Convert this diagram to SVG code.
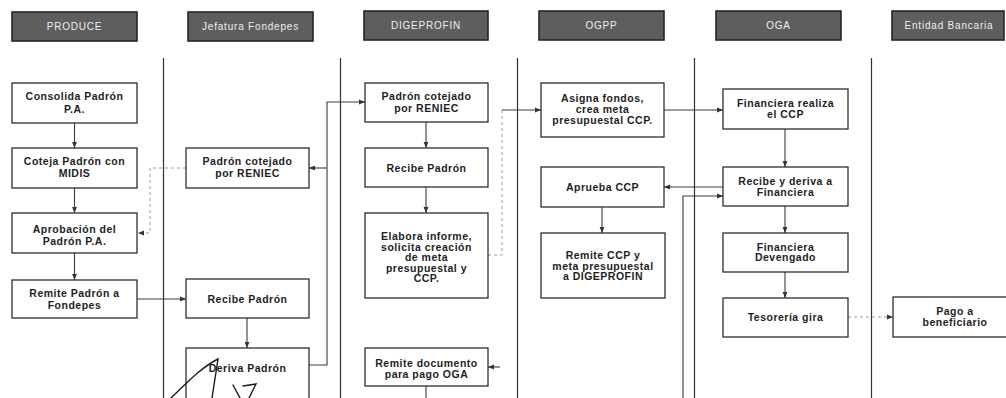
<svg xmlns="http://www.w3.org/2000/svg" width="1006" height="398" viewBox="0 0 1006 398">
<style>
.hdr rect{fill:#5e5e5e;stroke:#262626;stroke-width:1.6}
.hdr text{font-family:"Liberation Sans",Arial,sans-serif;font-size:10px;fill:#eeeeee;text-anchor:middle;letter-spacing:0.8px}
.lane{stroke:#333;stroke-width:1.2}
.node rect{fill:#fff;stroke:#2e2e2e;stroke-width:1.3}
.node text{font-family:"Liberation Sans",Arial,sans-serif;font-size:10.5px;font-weight:bold;fill:#1e1e1e;text-anchor:middle;letter-spacing:0.5px}
.c{fill:none;stroke:#3a3a3a;stroke-width:1.1}
.f{fill:none;stroke:#9a9a9a;stroke-width:1;stroke-dasharray:3 3}
.sig{fill:none;stroke:#1a1a1a;stroke-width:1.4;stroke-linecap:round}
</style>
<defs>
<marker id="ah" viewBox="0 0 10 10" refX="10" refY="5" markerWidth="6" markerHeight="6" orient="auto" markerUnits="userSpaceOnUse"><path d="M0,1 L10,5 L0,9 z" fill="#333"/></marker>
</defs>
<rect width="1006" height="398" fill="#fff"/>
<g id="headers" class="hdr">
<g id="h_produce"><rect x="12" y="12" width="125" height="29"/><text x="74.5" y="30">PRODUCE</text></g>
<g id="h_fondepes"><rect x="188" y="12" width="125" height="29"/><text x="250.5" y="30">Jefatura Fondepes</text></g>
<g id="h_digeprofin"><rect x="364" y="11" width="124" height="29"/><text x="426" y="29">DIGEPROFIN</text></g>
<g id="h_ogpp"><rect x="539" y="11" width="125" height="29"/><text x="601.5" y="29">OGPP</text></g>
<g id="h_oga"><rect x="716" y="11" width="125" height="29"/><text x="778.5" y="29">OGA</text></g>
<g id="h_banco"><rect x="892" y="11" width="112" height="29"/><text x="949" y="29">Entidad Bancaria</text></g>
</g>
<g id="lanes">
<line class="lane" x1="163.5" y1="58" x2="163.5" y2="398"/>
<line class="lane" x1="340.5" y1="58" x2="340.5" y2="398"/>
<line class="lane" x1="517.5" y1="58" x2="517.5" y2="398"/>
<line class="lane" x1="694.5" y1="58" x2="694.5" y2="398"/>
<line class="lane" x1="871.5" y1="58" x2="871.5" y2="398"/>
</g>
<g id="connectors">
<path class="c" d="M74.5,123 V148" marker-end="url(#ah)"/>
<path class="c" d="M74.5,188 V213" marker-end="url(#ah)"/>
<path class="c" d="M74.5,253 V280" marker-end="url(#ah)"/>
<path class="c" d="M137,299 H186" marker-end="url(#ah)"/>
<path class="c" d="M247,318 V348" marker-end="url(#ah)"/>
<path class="c" d="M308,365 H327 V102 H365" marker-end="url(#ah)" stroke="#666"/>
<path class="c" d="M327,168 H309" marker-end="url(#ah)" stroke="#666"/>
<path class="f" d="M186,168 H150 V233 H138" marker-end="url(#ah)"/>
<path class="c" d="M426,122 V148" marker-end="url(#ah)"/>
<path class="c" d="M426,187 V213" marker-end="url(#ah)"/>
<path class="f" d="M488,255 H502 V110"/>
<path class="c" d="M502,110 H541" marker-end="url(#ah)"/>
<path class="c" d="M664,110 H723" marker-end="url(#ah)" stroke="#666"/>
<path class="c" d="M785,129 V167" marker-end="url(#ah)"/>
<path class="c" d="M723,187 H664" marker-end="url(#ah)"/>
<path class="c" d="M683,398 V196 H723" marker-end="url(#ah)" stroke="#777"/>
<path class="c" d="M602,207 V233" marker-end="url(#ah)"/>
<path class="c" d="M785,206 V233" marker-end="url(#ah)"/>
<path class="c" d="M785,272 V298" marker-end="url(#ah)"/>
<path class="f" d="M848,317 H893" marker-end="url(#ah)"/>
<path class="c" d="M426,386 V398"/>
<path class="c" d="M500,367 H488" marker-end="url(#ah)" stroke="#777"/>
</g>
<g id="n_consolida" class="node"><rect x="12" y="83" width="125" height="40"/><text x="74.5" y="100">Consolida Padrón</text><text x="74.5" y="113">P.A.</text></g>
<g id="n_coteja" class="node"><rect x="12" y="148" width="125" height="40"/><text x="74.5" y="165">Coteja Padrón con</text><text x="74.5" y="177">MIDIS</text></g>
<g id="n_aprobacion" class="node"><rect x="12" y="213" width="125" height="40"/><text x="74.5" y="233">Aprobación del</text><text x="74.5" y="245">Padrón P.A.</text></g>
<g id="n_remite_fondepes" class="node"><rect x="12" y="280" width="125" height="38"/><text x="74.5" y="297">Remite Padrón a</text><text x="74.5" y="309">Fondepes</text></g>
<g id="n_cotejado_f" class="node"><rect x="186" y="148" width="123" height="40"/><text x="247.5" y="165">Padrón cotejado</text><text x="247.5" y="177">por RENIEC</text></g>
<g id="n_recibe_f" class="node"><rect x="186" y="279" width="123" height="39"/><text x="247.5" y="303">Recibe Padrón</text></g>
<g id="n_deriva" class="node"><rect x="186" y="348" width="123" height="60"/><text x="247.5" y="372">Deriva Padrón</text></g>
<g id="n_cotejado_d" class="node"><rect x="365" y="83" width="123" height="39"/><text x="426.5" y="100">Padrón cotejado</text><text x="426.5" y="112">por RENIEC</text></g>
<g id="n_recibe_d" class="node"><rect x="365" y="148" width="123" height="39"/><text x="426.5" y="172">Recibe Padrón</text></g>
<g id="n_elabora" class="node"><rect x="365" y="213" width="123" height="85"/><text x="426.5" y="240">Elabora informe,</text><text x="426.5" y="250.5">solicita creación</text><text x="426.5" y="261">de meta</text><text x="426.5" y="271.5">presupuestal y</text><text x="426.5" y="282">CCP.</text></g>
<g id="n_remite_doc" class="node"><rect x="365" y="348" width="123" height="38"/><text x="426.5" y="367">Remite documento</text><text x="426.5" y="378">para pago OGA</text></g>
<g id="n_asigna" class="node"><rect x="541" y="83" width="123" height="54"/><text x="602.5" y="102">Asigna fondos,</text><text x="602.5" y="113">crea meta</text><text x="602.5" y="124">presupuestal CCP.</text></g>
<g id="n_aprueba" class="node"><rect x="541" y="167" width="123" height="40"/><text x="602.5" y="191">Aprueba CCP</text></g>
<g id="n_remite_ccp" class="node"><rect x="541" y="233" width="124" height="65"/><text x="603" y="259">Remite CCP y</text><text x="603" y="269.5">meta presupuestal</text><text x="603" y="280">a DIGEPROFIN</text></g>
<g id="n_fin_realiza" class="node"><rect x="723" y="89" width="125" height="40"/><text x="785.5" y="107">Financiera realiza</text><text x="785.5" y="118">el CCP</text></g>
<g id="n_recibe_deriva" class="node"><rect x="723" y="167" width="125" height="39"/><text x="785.5" y="185">Recibe y deriva a</text><text x="785.5" y="196">Financiera</text></g>
<g id="n_devengado" class="node"><rect x="723" y="233" width="125" height="39"/><text x="785.5" y="250.5">Financiera</text><text x="785.5" y="261">Devengado</text></g>
<g id="n_tesoreria" class="node"><rect x="723" y="298" width="125" height="39"/><text x="785.5" y="321">Tesorería gira</text></g>
<g id="n_pago" class="node"><rect x="893" y="297" width="124" height="40"/><text x="955" y="314.5">Pago a</text><text x="955" y="325.5">beneficiario</text></g>
<g id="signature">
<path class="sig" d="M171,398 C185,385 200,368 218,359 L212,398"/>
<path class="sig" d="M233,385 L240,398 M243,386 L256,384 L249,398"/>
</g>
</svg>
